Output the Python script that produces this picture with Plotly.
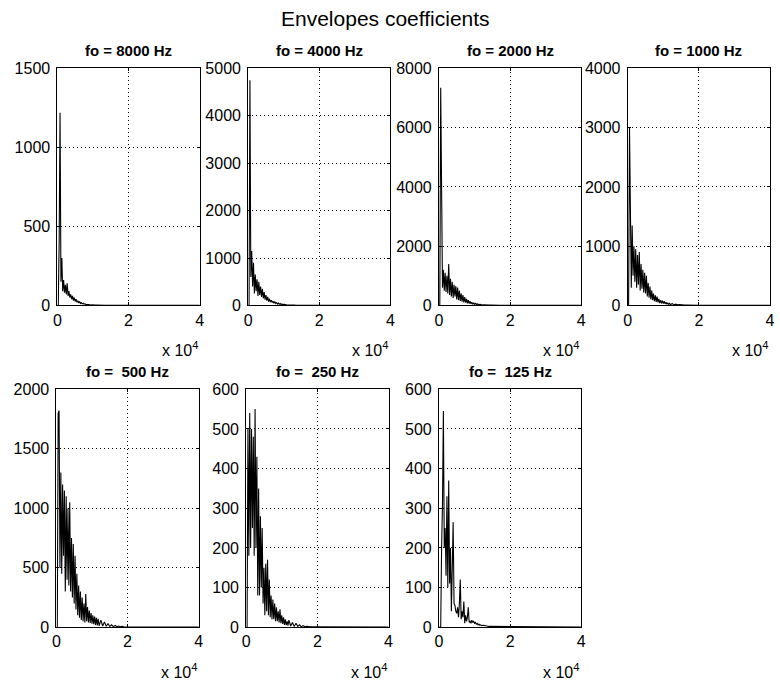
import plotly.graph_objects as go

# Shared frequency grid (Hz)
FREQ = [0, 250, 500, 750, 1000, 1250, 1500, 1750, 2000, 2250, 2500, 2750, 3000, 3250, 3500, 3750,
        4000, 4250, 4500, 4750, 5000, 5250, 5500, 5750, 6000, 6250, 6500, 6750, 7000, 7250, 7500, 7750,
        8000, 8250, 8500, 8750, 9000, 9250, 9500, 9750, 10000, 10250, 10500, 10750, 11000, 11250, 11500,
        11750, 12000,
        12500, 13000, 13500, 14000, 14500, 15000, 15500, 16000, 16500, 17000, 17500, 18000, 18500, 19000,
        19500, 20000,
        22000, 24000, 26000, 28000, 30000, 32000, 34000, 36000, 38000, 40000]

TITLES = ["fo = 8000 Hz", "fo = 4000 Hz", "fo = 2000 Hz", "fo = 1000 Hz",
          "fo = \u00a0500 Hz", "fo = \u00a0250 Hz", "fo = \u00a0125 Hz"]

ENV_8000 = [0, 0, 400, 1220, 150, 300, 90, 160, 80, 130, 70, 140, 60, 90, 50, 70, 40, 60, 30, 50,
            25, 40, 20, 30, 15, 25, 12, 18, 10, 14, 8, 10, 6, 8, 5, 6, 4, 5, 3, 4, 2, 3, 2, 2, 1.5, 2,
            1.5, 1.5, 1,
            1, 1, 1, 1, 0.8, 0.8, 0.8, 0.6, 0.6, 0.6, 0.5, 0.5, 0.5, 0.5, 0.4, 0.4,
            0.4, 0.3, 0.3, 0.3, 0.3, 0.2, 0.2, 0.1, 0.1, 0.1]

ENV_4000 = [0, 0, 4750, 600, 1150, 400, 900, 250, 650, 300, 550, 200, 500, 220, 400, 180, 350, 150,
            280, 120, 220, 100, 180, 80, 140, 70, 110, 60, 90, 45, 75, 40, 60, 30, 50, 25, 40, 20, 30,
            15, 25, 12, 18, 10, 14, 8, 10, 6, 8,
            5, 6, 4, 4, 3, 3, 2.5, 2.5, 2, 2, 2, 1.5, 1.5, 1.5, 1, 1,
            1, 1, 0.8, 0.8, 0.6, 0.6, 0.5, 0.5, 0.4, 0.4]

ENV_2000 = [0, 0, 7350, 1600, 600, 1200, 500, 1100, 450, 1000, 400, 1400, 350, 900, 300, 800, 250,
            700, 300, 650, 200, 600, 180, 500, 150, 400, 130, 350, 100, 280, 90, 220, 70, 180, 60, 140,
            50, 110, 40, 90, 35, 70, 30, 55, 25, 45, 20, 35, 15,
            25, 12, 20, 10, 14, 8, 10, 6, 7, 5, 5, 4, 4, 3, 3, 2,
            2, 2, 1.5, 1, 1, 1, 1, 0.5, 0.5, 0.5]

ENV_1000 = [0, 0, 3000, 1450, 300, 1350, 500, 1000, 400, 950, 300, 850, 350, 900, 250, 700, 280,
            600, 220, 550, 200, 500, 150, 380, 130, 320, 100, 250, 90, 200, 70, 170, 60, 150, 50, 110,
            40, 90, 35, 80, 30, 70, 25, 55, 20, 45, 18, 35, 15,
            30, 12, 22, 10, 15, 8, 10, 6, 7, 5, 5, 4, 4, 3, 3, 2,
            2, 1.5, 1.5, 1, 1, 1, 0.5, 0.5, 0.5, 0.5]

ENV_500 = [0, 0, 1800, 1820, 500, 1300, 450, 1200, 600, 1150, 300, 1100, 400, 1000, 350, 1050, 300,
           750, 250, 700, 200, 600, 150, 450, 100, 350, 80, 300, 60, 250, 50, 200, 40, 280, 50, 170,
           40, 140, 35, 120, 30, 100, 25, 90, 20, 80, 15, 70, 12,
           60, 10, 45, 8, 30, 6, 20, 5, 15, 4, 10, 3, 8, 2, 5, 2,
           2, 1.5, 1, 1, 1, 0.5, 0.5, 0.5, 0.5, 0.5]

ENV_250 = [0, 0, 500, 180, 540, 200, 500, 250, 480, 180, 550, 200, 430, 80, 350, 80, 280, 100, 250,
           60, 150, 30, 160, 40, 170, 30, 120, 25, 80, 20, 70, 20, 60, 15, 50, 15, 40, 12, 45, 10, 30,
           8, 25, 6, 20, 5, 15, 4, 18,
           3, 12, 2, 10, 2, 6, 1, 4, 1, 2, 1, 1, 1, 1, 1, 1,
           1, 1, 0.5, 0.5, 0.5, 0.5, 0.5, 0.5, 0.2, 0.2]

ENV_125 = [0, 0, 0, 200, 310, 545, 200, 250, 130, 330, 100, 370, 110, 200, 40, 150, 265, 60, 55, 40,
           35, 50, 25, 60, 120, 20, 40, 25, 65, 10, 30, 15, 25, 50, 12, 15, 10, 18, 12, 15, 10, 12, 8,
           10, 6, 8, 5, 6, 4,
           5, 3, 3, 2, 2, 2, 1.5, 1.5, 1, 1, 1, 1, 1, 1, 1, 1,
           1, 1, 1, 1, 1, 0.5, 0.5, 0.5, 0.5, 0.5]

SERIES = [ENV_8000, ENV_4000, ENV_2000, ENV_1000, ENV_500, ENV_250, ENV_125]
YMAX = [1500, 5000, 8000, 4000, 2000, 600, 600]
YDTICK = [500, 1000, 2000, 1000, 500, 100, 100]
XTICKVALS = [0, 20000, 40000]
XTICKTEXT = ["0", "2", "4"]

for s in SERIES:
    assert len(s) == len(FREQ), len(s)

W, H = 780, 684
# pixel boxes (left, top, right, bottom)
BOXES = [(54, 62, 198, 305), (247, 62, 391, 305), (440, 62, 584, 305), (631, 62, 775, 305),
         (53, 391, 197, 635), (245, 391, 389, 635), (440, 391, 584, 635)]

FONT = "Liberation Sans, Arial, Helvetica, sans-serif"

fig = go.Figure()
layout = dict(
    width=W, height=H, margin=dict(l=0, r=0, t=0, b=0),
    paper_bgcolor="white", plot_bgcolor="white", showlegend=False,
    font=dict(family=FONT, size=16, color="black"),
)
annotations = []
for i, (ys, box) in enumerate(zip(SERIES, BOXES)):
    n = "" if i == 0 else str(i + 1)
    left, top, right, bottom = box
    x0, x1 = left / W, right / W
    y0, y1 = 1 - bottom / H, 1 - top / H
    fig.add_trace(go.Scatter(x=FREQ, y=ys, mode="lines",
                             line=dict(color="black", width=1.1),
                             xaxis="x" + n, yaxis="y" + n, hoverinfo="skip"))
    common = dict(showline=True, linecolor="black", linewidth=1, mirror="ticks",
                  ticks="inside", ticklen=3, tickcolor="black",
                  showgrid=True, gridcolor="black", gridwidth=1, griddash="1px,3px",
                  zeroline=False, tickfont=dict(family=FONT, size=16, color="black"))
    layout["xaxis" + n] = dict(domain=[x0, x1], anchor="y" + n, range=[0, 40000],
                               tickvals=XTICKVALS, ticktext=XTICKTEXT, **common)
    layout["yaxis" + n] = dict(domain=[y0, y1], anchor="x" + n, range=[0, YMAX[i]],
                               dtick=YDTICK[i], tick0=0, ticklabelstandoff=3, **common)
    annotations.append(dict(text="<b>" + TITLES[i] + "</b>", x=(x0 + x1) / 2, y=1 - (top - 18) / H,
                            xref="paper", yref="paper", xanchor="center", yanchor="middle",
                            showarrow=False, font=dict(family=FONT, size=15, color="black")))
    annotations.append(dict(text="x 10<sup>4</sup>", x=x1, y=1 - (bottom + 45) / H,
                            xref="paper", yref="paper", xanchor="right", yanchor="middle",
                            showarrow=False, font=dict(family=FONT, size=16, color="black")))

annotations.append(dict(text="Envelopes coefficients", x=386 / W, y=1 - 11 / H,
                        xref="paper", yref="paper", xanchor="center", yanchor="middle",
                        showarrow=False, font=dict(family=FONT, size=21, color="black")))
layout["annotations"] = annotations
fig.update_layout(**layout)
fig.write_html("out.html")
